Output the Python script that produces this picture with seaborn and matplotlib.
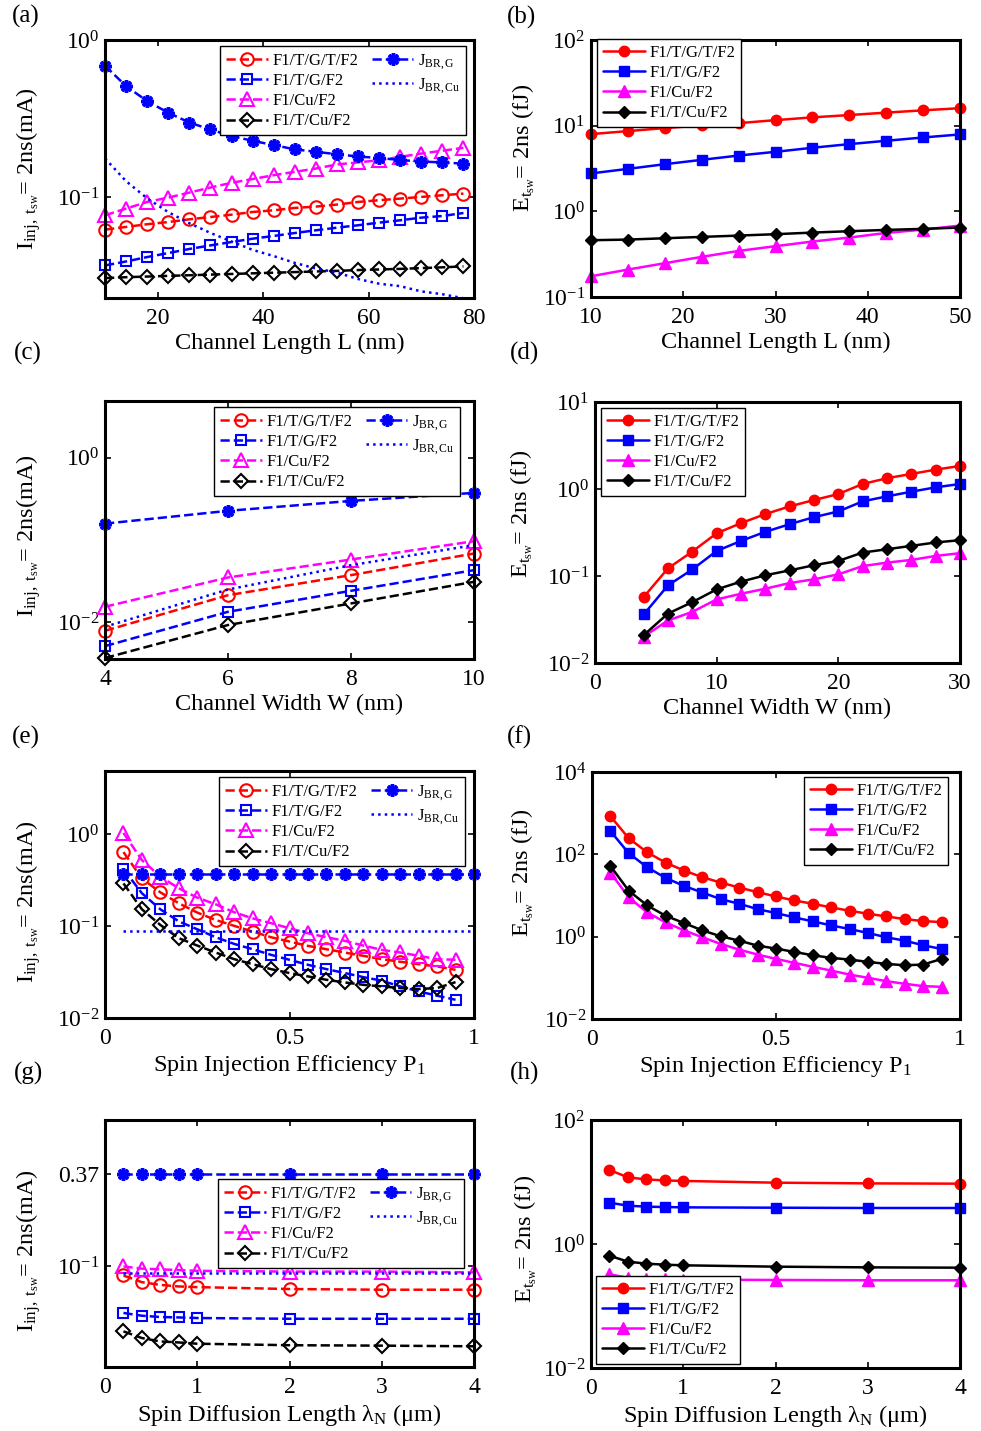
import numpy as np
import pandas as pd
import matplotlib
matplotlib.use('Agg')
import matplotlib.pyplot as plt
import seaborn as sns
from matplotlib.lines import Line2D
from matplotlib.ticker import FixedLocator, NullLocator, FixedFormatter

# ---------------- data ----------------
series_names = ['F1/T/G/T/F2', 'F1/T/G/F2', 'F1/Cu/F2', 'F1/T/Cu/F2']
jg_label = r'$\mathrm{J_{BR,G}}$'
jcu_label = r'$\mathrm{J_{BR,Cu}}$'

# (a) current vs channel length
a_x = [10, 14, 18, 22, 26, 30, 34, 38, 42, 46, 50, 54, 58, 62, 66, 70, 74, 78]
a_red = [0.0619, 0.0644, 0.067, 0.0692, 0.072, 0.0745, 0.0771, 0.0802, 0.0822, 0.0851,
         0.0868, 0.0894, 0.0929, 0.0953, 0.0976, 0.100, 0.1025, 0.105]
a_blue = [0.0366, 0.0388, 0.0414, 0.0439, 0.0466, 0.0491, 0.0516, 0.0542, 0.0564, 0.0589,
          0.0613, 0.0637, 0.066, 0.0686, 0.071, 0.0738, 0.0756, 0.079]
a_mag = [0.0764, 0.0843, 0.0929, 0.099, 0.1066, 0.1148, 0.123, 0.130, 0.1376, 0.1445,
         0.1517, 0.161, 0.166, 0.1715, 0.180, 0.189, 0.197, 0.2055]
a_blk = [0.0304, 0.0308, 0.0311, 0.0314, 0.0317, 0.0320, 0.0323, 0.0326, 0.0329, 0.0332,
         0.0335, 0.0338, 0.0342, 0.0345, 0.0348, 0.0352, 0.0356, 0.0361]
a_jg = [0.686, 0.508, 0.408, 0.344, 0.298, 0.269, 0.244, 0.228, 0.214, 0.201,
        0.194, 0.187, 0.181, 0.177, 0.172, 0.168, 0.166, 0.163]
a_jcu = [0.176, 0.126, 0.098, 0.080, 0.068, 0.059, 0.052, 0.046, 0.042, 0.038,
         0.035, 0.033, 0.030, 0.028, 0.027, 0.025, 0.024, 0.0226]

# (b) energy vs channel length
b_x = [10, 14, 18, 22, 26, 30, 34, 38, 42, 46, 50]
b_red = [7.97, 8.64, 9.37, 10.07, 10.7, 11.6, 12.5, 13.3, 14.2, 15.1, 16.0]
b_blue = [2.77, 3.13, 3.55, 3.99, 4.48, 4.95, 5.52, 6.09, 6.66, 7.28, 7.9]
b_mag = [0.1746, 0.209, 0.248, 0.294, 0.345, 0.392, 0.444, 0.494, 0.560, 0.612, 0.682]
b_blk = [0.460, 0.468, 0.485, 0.503, 0.521, 0.541, 0.565, 0.586, 0.607, 0.624, 0.647]

# (c) current vs channel width
c_x = [4, 6, 8, 10]
c_red = [0.00792, 0.0214, 0.0375, 0.0686]
c_blue = [0.00516, 0.01346, 0.0242, 0.0431]
c_mag = [0.0155, 0.0351, 0.058, 0.0968]
c_blk = [0.0037, 0.0093, 0.017, 0.0311]
c_jg = [0.158, 0.226, 0.298, 0.373]
c_jcu = [0.00886, 0.0251, 0.0495, 0.0866]

# (d) energy vs channel width
d_x = [4, 6, 8, 10, 12, 14, 16, 18, 20, 22, 24, 26, 28, 30]
d_red = [0.0573, 0.1225, 0.191, 0.310, 0.405, 0.515, 0.631, 0.747, 0.875, 1.142, 1.33, 1.49, 1.67, 1.84]
d_blue = [0.0361, 0.078, 0.119, 0.194, 0.253, 0.322, 0.394, 0.475, 0.552, 0.721, 0.823, 0.931, 1.045, 1.142]
d_mag = [0.0201, 0.0308, 0.0387, 0.0538, 0.0625, 0.0714, 0.083, 0.0916, 0.1045, 0.130, 0.1425, 0.153, 0.170, 0.183]
d_blk = [0.0209, 0.037, 0.0501, 0.0702, 0.0861, 0.102, 0.116, 0.133, 0.149, 0.186, 0.203, 0.222, 0.243, 0.258]

# (e) current vs spin injection efficiency
e_x = [0.05, 0.10, 0.15, 0.20, 0.25, 0.30, 0.35, 0.40, 0.45, 0.50,
       0.55, 0.60, 0.65, 0.70, 0.75, 0.80, 0.85, 0.90, 0.95]
e_red = [0.643, 0.332, 0.234, 0.178, 0.141, 0.117, 0.101, 0.0875, 0.0759, 0.0681,
         0.0611, 0.0562, 0.0517, 0.0476, 0.0438, 0.041, 0.0386, 0.0365, 0.0335]
e_blue = [0.42, 0.229, 0.153, 0.113, 0.0927, 0.0759, 0.0642, 0.0562, 0.0488, 0.0431,
          0.038, 0.0341, 0.0309, 0.0279, 0.0255, 0.0221, 0.0195, 0.0175, 0.0158]
e_mag = [1.04, 0.526, 0.347, 0.259, 0.205, 0.1735, 0.142, 0.122, 0.108, 0.0951,
         0.0839, 0.0759, 0.0693, 0.0616, 0.0553, 0.0518, 0.0476, 0.0438, 0.0431]
e_blk = [0.293, 0.153, 0.1033, 0.0741, 0.0616, 0.0517, 0.0438, 0.0386, 0.0341, 0.0309,
         0.0284, 0.0261, 0.0244, 0.023, 0.0221, 0.0212, 0.0207, 0.0212, 0.0246]
e_jx = [0.05, 0.10, 0.15, 0.20, 0.25, 0.30, 0.35, 0.40, 0.45, 0.50,
        0.55, 0.60, 0.65, 0.70, 0.75, 0.80, 0.85, 0.90, 0.95, 1.00]
e_jg = [0.37, 0.37, 0.37, 0.37, 0.37, 0.37, 0.37, 0.37, 0.37, 0.37,
        0.37, 0.37, 0.37, 0.37, 0.37, 0.37, 0.37, 0.37, 0.37, 0.37]
e_jcu = [0.089, 0.089, 0.089, 0.089, 0.089, 0.089, 0.089, 0.089, 0.089, 0.089,
         0.089, 0.089, 0.089, 0.089, 0.089, 0.089, 0.089, 0.089, 0.089, 0.089]

# (f) energy vs spin injection efficiency
f_x = e_x
f_red = [845, 244, 112, 62.8, 40.3, 27.8, 20.6, 15.6, 12.05, 9.46,
         7.57, 6.29, 5.13, 4.26, 3.6, 3.1, 2.67, 2.39, 2.26]
f_blue = [367, 106, 48.4, 26.7, 17.1, 11.8, 8.15, 6.29, 4.67, 3.74,
          2.94, 2.35, 1.88, 1.53, 1.23, 0.964, 0.80, 0.617, 0.503]
f_mag = [36, 8.96, 3.88, 2.22, 1.42, 0.964, 0.665, 0.484, 0.367, 0.288,
         0.231, 0.185, 0.150, 0.12, 0.10, 0.083, 0.0716, 0.0628, 0.0605]
f_blk = [52.2, 13.0, 5.73, 3.22, 2.14, 1.42, 1.02, 0.80, 0.605, 0.513,
         0.426, 0.353, 0.305, 0.278, 0.244, 0.218, 0.202, 0.21, 0.288]

# (g) current vs spin diffusion length
g_x = [0.2, 0.4, 0.6, 0.8, 1.0, 2.0, 3.0, 4.0]
g_red = [0.088, 0.080, 0.077, 0.0753, 0.0746, 0.0726, 0.0719, 0.0719]
g_blue = [0.0517, 0.0497, 0.0488, 0.0485, 0.0481, 0.0476, 0.0476, 0.0476]
g_mag = [0.100, 0.097, 0.096, 0.095, 0.094, 0.093, 0.093, 0.092]
g_blk = [0.0398, 0.0362, 0.0345, 0.034, 0.0334, 0.0327, 0.0325, 0.0322]
g_jg = [0.37, 0.37, 0.37, 0.37, 0.37, 0.37, 0.37, 0.37]
g_jcu = [0.0918, 0.0918, 0.0918, 0.0918, 0.0918, 0.0918, 0.0918, 0.0918]

# (h) energy vs spin diffusion length
h_x = g_x
h_red = [15.6, 11.9, 11.0, 10.6, 10.4, 9.75, 9.5, 9.4]
h_blue = [4.64, 4.15, 4.0, 3.95, 3.90, 3.85, 3.81, 3.81]
h_mag = [0.324, 0.286, 0.272, 0.269, 0.266, 0.263, 0.26, 0.26]
h_blk = [0.649, 0.519, 0.482, 0.464, 0.453, 0.431, 0.42, 0.415]

# ticks
a_xticks, a_xlabels = [20, 40, 60, 80], ['20', '40', '60', '80']
b_xticks, b_xlabels = [10, 20, 30, 40, 50], ['10', '20', '30', '40', '50']
c_xticks, c_xlabels = [4, 6, 8, 10], ['4', '6', '8', '10']
d_xticks, d_xlabels = [0, 10, 20, 30], ['0', '10', '20', '30']
e_xticks, e_xlabels = [0, 0.5, 1], ['0', '0.5', '1']
g_xticks, g_xlabels = [0, 1, 2, 3, 4], ['0', '1', '2', '3', '4']

def dec(p):
    return r'$\mathregular{10^{%d}}$' % p

a_yticks, a_ylabels = [0.1, 1], [dec(-1), dec(0)]
b_yticks, b_ylabels = [0.1, 1, 10, 100], [dec(-1), dec(0), dec(1), dec(2)]
c_yticks, c_ylabels = [0.01, 1], [dec(-2), dec(0)]
d_yticks, d_ylabels = [0.01, 0.1, 1, 10], [dec(-2), dec(-1), dec(0), dec(1)]
e_yticks, e_ylabels = [0.01, 0.1, 1], [dec(-2), dec(-1), dec(0)]
f_yticks, f_ylabels = [0.01, 1, 100, 10000], [dec(-2), dec(0), dec(2), dec(4)]
g_yticks, g_ylabels = [0.1, 0.37], [dec(-1), '0.37']
h_yticks, h_ylabels = [0.01, 1, 100], [dec(-2), dec(0), dec(2)]

# ---------------- style ----------------
sns.set_theme(style='white')
plt.rcParams['font.family'] = ['Liberation Serif', 'DejaVu Serif']
plt.rcParams['mathtext.fontset'] = 'custom'
plt.rcParams['mathtext.rm'] = 'Liberation Serif'
plt.rcParams['mathtext.it'] = 'Liberation Serif:italic'
plt.rcParams['mathtext.bf'] = 'Liberation Serif:bold'
plt.rcParams['text.color'] = 'black'
plt.rcParams['axes.labelcolor'] = 'black'

W, H = 981, 1431
fig = plt.figure(figsize=(W / 100, H / 100), dpi=100)

def add_ax(l, r, t, b):
    return fig.add_axes([l / W, 1 - b / H, (r - l) / W, (b - t) / H])

RED, BLUE, MAG, BLK = (1, 0, 0), (0, 0, 1), (1, 0, 1), (0, 0, 0)
LW = 1.8

def draw(ax, x, y, color, marker, ls, filled, label, ms, mew=1.5):
    sns.lineplot(x=x, y=y, ax=ax, color=color, marker=marker, linestyle=ls,
                 markersize=ms, markeredgecolor=color,
                 markerfacecolor=(color if filled else 'none'),
                 markeredgewidth=mew, linewidth=LW, label=label, legend=False,
                 sort=False, errorbar=None, clip_on=False)
    return ax.get_lines()[-1]

def style(ax, xlim, xt, xl, ylim, yt, yl):
    ax.set_yscale('log')
    ax.set_xlim(*xlim)
    ax.set_ylim(*ylim)
    ax.xaxis.set_major_locator(FixedLocator(xt))
    ax.xaxis.set_major_formatter(FixedFormatter(xl))
    ax.yaxis.set_major_locator(FixedLocator(yt))
    ax.yaxis.set_major_formatter(FixedFormatter(yl))
    ax.xaxis.set_minor_locator(NullLocator())
    ax.yaxis.set_minor_locator(NullLocator())
    ax.tick_params(direction='in', bottom=True, left=True, top=True, right=True,
                   length=4, width=1.2, colors='black', labelsize=17)
    ax.tick_params(axis='x', pad=7)
    ax.tick_params(axis='y', pad=4)
    for s in ax.spines.values():
        s.set_visible(True)
        s.set_linewidth(2.2)
        s.set_color('black')
    ax.grid(False)
    ax.set_facecolor('white')

def left_panel(ax, x, red, blue, mag, blk, jx, jg, jcu):
    hs = []
    hs.append(draw(ax, x, red, RED, 'o', '--', False, series_names[0], 9))
    hs.append(draw(ax, x, blue, BLUE, 's', '--', False, series_names[1], 7))
    hs.append(draw(ax, x, mag, MAG, '^', '--', False, series_names[2], 10))
    hs.append(draw(ax, x, blk, BLK, 'D', '--', False, series_names[3], 7))
    hj = draw(ax, jx, jg, BLUE, (8, 2, 0), '--', True, jg_label, 9, mew=2.5)
    hc = draw(ax, jx, jcu, BLUE, None, ':', True, jcu_label, 1)
    return hs + [hj, hc]

def right_panel(ax, x, red, blue, mag, blk):
    hs = []
    hs.append(draw(ax, x, red, RED, 'o', '-', True, series_names[0], 7.5, 1))
    hs.append(draw(ax, x, blue, BLUE, 's', '-', True, series_names[1], 6.5, 1))
    hs.append(draw(ax, x, mag, MAG, '^', '-', True, series_names[2], 8.5, 1))
    hs.append(draw(ax, x, blk, BLK, 'D', '-', True, series_names[3], 6, 1))
    return hs

def legend(ax, handles, x0, y0, ncol=1, loc='upper left'):
    if ncol == 2:
        blank = Line2D([], [], linestyle='none', marker=None)
        handles = handles[:4] + handles[4:] + [blank]
        labels = series_names + [jg_label, jcu_label, '']
    else:
        labels = series_names
    leg = ax.legend(handles, labels, loc=loc, bbox_to_anchor=(x0 / W, 1 - y0 / H),
                    bbox_transform=fig.transFigure, borderaxespad=0, ncol=ncol,
                    fontsize=12, frameon=True, fancybox=False, framealpha=1,
                    edgecolor='black', borderpad=0.35, handlelength=2.5,
                    handletextpad=0.3, labelspacing=0.25, columnspacing=0.8)
    leg.get_frame().set_linewidth(1.0)
    return leg

ylab_I = r'$\mathrm{I_{inj,\ t_{sw}}}$= 2ns(mA)'
ylab_E = r'$\mathrm{E_{t_{sw}}}$= 2ns (fJ)'

def labels(ax, xlabel, ylabel, yl_right_px, ax_left_px, ax_w_px, yfrac):
    ax.set_xlabel(xlabel, fontsize=17.5, labelpad=3)
    ax.set_ylabel(ylabel, fontsize=17.5)
    ax.yaxis.set_label_coords((yl_right_px - ax_left_px) / ax_w_px, yfrac)

# (a)
ax = add_ax(105, 474, 40, 298)
hs = left_panel(ax, a_x, a_red, a_blue, a_mag, a_blk, a_x, a_jg, a_jcu)
style(ax, (10, 80), a_xticks, a_xlabels, (0.0227, 1.0), a_yticks, a_ylabels)
legend(ax, hs, 220, 46, ncol=2)
labels(ax, 'Channel Length L (nm)', ylab_I, 43, 105, 369, 0.5)

# (b)
ax = add_ax(591, 960, 40, 297)
hs = right_panel(ax, b_x, b_red, b_blue, b_mag, b_blk)
style(ax, (10, 50), b_xticks, b_xlabels, (0.1, 100), b_yticks, b_ylabels)
legend(ax, hs, 597, 39)
labels(ax, 'Channel Length L (nm)', ylab_E, 537, 591, 369, 0.58)

# (c)
ax = add_ax(105, 474, 401, 659)
hs = left_panel(ax, c_x, c_red, c_blue, c_mag, c_blk, c_x, c_jg, c_jcu)
style(ax, (4, 10), c_xticks, c_xlabels, (0.0036, 4.86), c_yticks, c_ylabels)
legend(ax, hs, 214, 407, ncol=2)
labels(ax, 'Channel Width W (nm)', ylab_I, 43, 105, 369, 0.48)

# (d)
ax = add_ax(595, 960, 402, 663)
hs = right_panel(ax, d_x, d_red, d_blue, d_mag, d_blk)
style(ax, (0, 30), d_xticks, d_xlabels, (0.01, 10), d_yticks, d_ylabels)
legend(ax, hs, 601, 408)
labels(ax, 'Channel Width W (nm)', ylab_E, 535, 595, 365, 0.57)

# (e)
ax = add_ax(105, 474, 771, 1018)
hs = left_panel(ax, e_x, e_red, e_blue, e_mag, e_blk, e_jx, e_jg, e_jcu)
style(ax, (0, 1), e_xticks, e_xlabels, (0.01, 4.92), e_yticks, e_ylabels)
legend(ax, hs, 219, 777, ncol=2)
labels(ax, r'Spin Injection Efficiency $\mathrm{P_{1}}$', ylab_I, 43, 105, 369, 0.47)

# (f)
ax = add_ax(592, 960, 772, 1019)
hs = right_panel(ax, f_x, f_red, f_blue, f_mag, f_blk)
style(ax, (0, 1), e_xticks, e_xlabels, (0.01, 10000), f_yticks, f_ylabels)
legend(ax, hs, 804, 777)
labels(ax, r'Spin Injection Efficiency $\mathrm{P_{1}}$', ylab_E, 536, 592, 368, 0.59)

# (g)
ax = add_ax(105, 474, 1120, 1367)
hs = left_panel(ax, g_x, g_red, g_blue, g_mag, g_blk, g_x, g_jg, g_jcu)
style(ax, (0, 4), g_xticks, g_xlabels, (0.024, 0.80), g_yticks, g_ylabels)
legend(ax, hs, 218, 1179, ncol=2)
labels(ax, r'Spin Diffusion Length $\mathrm{\lambda_{N}}$ (μm)', ylab_I, 43, 105, 369, 0.47)

# (h)
ax = add_ax(591, 960, 1120, 1368)
hs = right_panel(ax, h_x, h_red, h_blue, h_mag, h_blk)
style(ax, (0, 4), g_xticks, g_xlabels, (0.01, 100), h_yticks, h_ylabels)
legend(ax, hs, 596, 1364, loc='lower left')
labels(ax, r'Spin Diffusion Length $\mathrm{\lambda_{N}}$ (μm)', ylab_E, 539, 591, 369, 0.52)

# panel letters
for lab, px, py in [('(a)', 12, 16), ('(b)', 507, 17), ('(c)', 14, 353), ('(d)', 510, 353),
                    ('(e)', 12, 737), ('(f)', 507, 737), ('(g)', 14, 1073), ('(h)', 510, 1073)]:
    fig.text(px / W, 1 - py / H, lab, fontsize=18, ha='left', va='center')

fig.savefig('out.png', dpi=100, facecolor='white')
